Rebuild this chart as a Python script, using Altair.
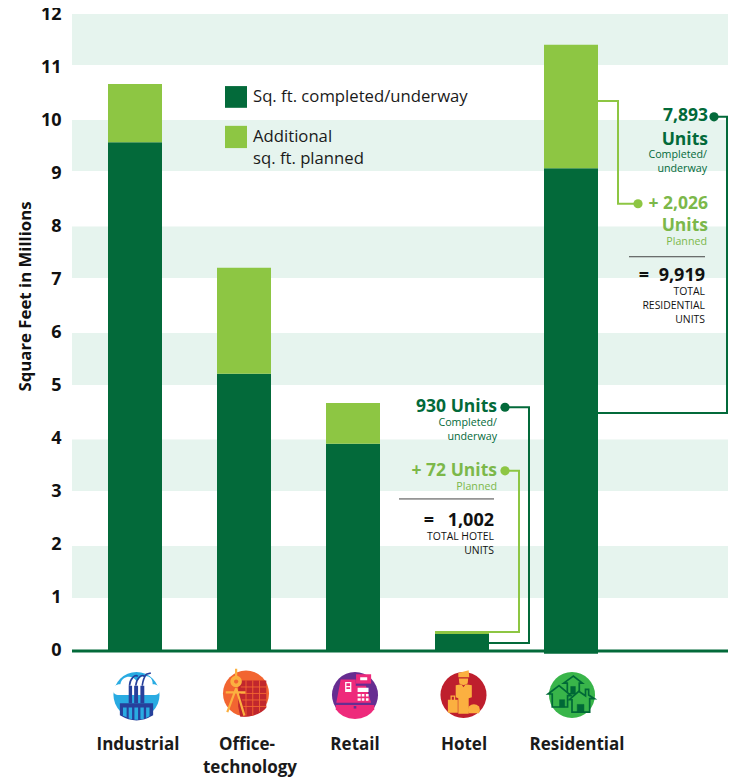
import altair as alt
import pandas as pd

FONT = "Open Sans"
DARK = "#036a3a"
LIGHT = "#8dc643"
LIGHT_TEXT = "#7cb84a"
BAND = "#e6f4ee"
INK = "#111111"

categories = ["Industrial", "Office-technology", "Retail", "Hotel", "Residential"]
base_values = [0, 0, 0, 0, -0.07]
completed = [9.58, 5.21, 3.89, 0.30, 9.09]
total = [10.68, 7.21, 4.66, 0.36, 11.42]

band_low = [0.98, 3.0, 5.0, 7.02, 9.04, 11.04]
band_high = [1.96, 3.97, 5.98, 7.99, 10, 12]

# connectors: id, colour, x (position scale), y (millions)
connector_ids = ["hd"] * 4 + ["hl"] * 4 + ["rd"] * 4 + ["rl"] * 4
connector_col = [DARK] * 4 + [LIGHT] * 4 + [DARK] * 4 + [LIGHT] * 4
connector_x = [489, 529, 529, 505, 489, 519, 519, 505, 598, 727, 727, 714, 598, 618, 618, 638]
connector_y = [0.13, 0.13, 4.58, 4.58, 0.34, 0.34, 3.38, 3.38, 4.47, 4.47, 10.06, 10.06, 10.36, 10.36, 8.42, 8.42]
connector_n = [0, 1, 2, 3] * 4

dot_x = [505, 505, 714, 638]
dot_y = [4.58, 3.38, 10.06, 8.42]
dot_c = [DARK, LIGHT, DARK, LIGHT]

divider_x = [399, 629]
divider_x2 = [494, 705]
divider_y = [2.85, 7.42]

swatch_x = [225, 225]
swatch_x2 = [247, 247]
swatch_y = [10.23, 9.47]
swatch_y2 = [10.64, 9.89]
swatch_c = [DARK, LIGHT]

label_text = [
    "930 Units", "Completed/", "underway", "+ 72 Units", "Planned", "1,002", "=", "TOTAL HOTEL", "UNITS",
    "7,893", "Units", "Completed/", "underway", "+ 2,026", "Units", "Planned", "9,919", "=", "TOTAL", "RESIDENTIAL", "UNITS",
]
label_x = [497, 497, 497, 497, 497, 494, 434, 494, 494, 708, 708, 707, 707, 708, 708, 707, 705, 649, 705, 705, 705]
label_y = [4.58, 4.28, 4.02, 3.38, 3.08, 2.43, 2.43, 2.13, 1.87, 10.08, 9.62, 9.34, 9.08, 8.42, 8.0, 7.70, 7.06, 7.06, 6.75, 6.49, 6.23]
label_size = [17.5, 10.7, 10.7, 17.5, 10.7, 18, 18, 10.4, 10.4, 17.5, 17.5, 10.7, 10.7, 17.5, 17.5, 10.7, 18, 18, 10.4, 10.4, 10.4]
label_weight = ["bold", "normal", "normal", "bold", "normal", "bold", "bold", "normal", "normal",
                "bold", "bold", "normal", "normal", "bold", "bold", "normal", "bold", "bold", "normal", "normal", "normal"]
label_col = [DARK, DARK, DARK, LIGHT_TEXT, LIGHT_TEXT, INK, INK, INK, INK,
             DARK, DARK, DARK, DARK, LIGHT_TEXT, LIGHT_TEXT, LIGHT_TEXT, INK, INK, INK, INK, INK]

legend_text = ["Sq. ft. completed/underway", "Additional", "sq. ft. planned"]
legend_x = [253, 253, 253]
legend_y = [10.43, 9.68, 9.26]

cat_text = ["Industrial", "Office-", "technology", "Retail", "Hotel", "Residential"]
cat_x = [138, 247, 250, 355, 464, 577]
cat_y = [-1.79, -1.79, -2.23, -1.79, -1.79, -1.79]

icon_x = [136.5, 246, 355, 463.5, 572]
icon_y = [-0.85, -0.82, -0.85, -0.85, -0.85]
icon_bg = ["#29abe2", "#f26531", "#662d91", "#be1e2d", "#39b54a"]

# icon pieces: icon index, unit-square SVG path, fill, stroke, stroke width
BLUE = "#27409b"
RED = "#c1272d"
YEL = "#fbb040"
PINK = "#ee2a7b"
WH = "#ffffff"
G = "#39b54a"
GD = "#006837"
T = "transparent"
icon_parts = [
    (0, "M-.65 0C-1 0-1-.42-.62-.42C-.55-.78-.1-.78 0-.52C.2-.85.65-.78.62-.42C1-.42 1 0 .65 0Z", WH, T, 0),
    (0, "M-.64 .32L.64 .32L.64 .78Q.3 .98 0 .98Q-.3 .98-.64 .78Z", BLUE, T, 0),
    (0, "M-.3-.36L-.17-.36L-.17 .32L-.3 .32ZM-.09-.36L.06-.36L.06 .32L-.09 .32ZM.15-.36L.3-.36L.3 .32L.15 .32Z", BLUE, T, 0),
    (0, "M-.27-.36C-.25-.65-.05-.8.05-.72M-.03-.36C0-.65 .2-.82 .3-.72M.22-.36C.25-.6 .3-.7 .38-.8L.55-.85", T, BLUE, 1.6),
    (0, "M-.52 .48L-.38 .48L-.38 .85L-.52 .8ZM-.3 .48L-.17 .48L-.17 .93L-.3 .9ZM-.08 .48L.06 .48L.06 .95L-.08 .95ZM.15 .48L.28 .48L.28 .92L.15 .93ZM.37 .48L.5 .48L.5 .82L.37 .88Z", "#29abe2", T, 0),
    (1, "M-.3-.5L.78-.5L.78 .55Q.5 .9-.22 .9L-.3 .5Z", RED, T, 0),
    (1, "M0-.5L0 .85M.26-.5L.26 .85M.52-.5L.52 .7M-.2-.25L.78-.25M-.2 0L.78 0M-.15 .25L.78 .25M-.1 .5L.78 .5", T, "#f26531", 0.9),
    (1, "M-.38-.95L-.38-.65M-.38-.2L-.72 .72M-.38-.2L-.06 .85M-.78-.04L-.02-.04", T, YEL, 2.2),
    (1, "M-.38-.68A.22 .22 0 1 0-.38-.24A.22 .22 0 1 0-.38-.68ZM-.38-.54A.08 .08 0 1 1-.38-.38A.08 .08 0 1 1-.38-.54Z", YEL, T, 0),
    (2, "M-.55-.6L.03-.6L.03-.36L.42-.36L.62.3L-.72 .3Z", PINK, T, 0),
    (2, "M.04-.8L.62-.8L.62-.44L.04-.44Z", PINK, T, 0),
    (2, "M-.74 .38L.74 .38L.74 .55Q.5 .92 0 .92Q-.5 .92-.74 .55Z", PINK, T, 0),
    (2, "M.2-.68L.47-.68L.47-.57L.2-.57ZM.1-.28L.52-.28L.52-.12L.1-.12ZM.1-.04L.22-.04L.22 .06L.1 .06ZM.26-.04L.36-.04L.36 .06L.26 .06ZM.42-.04L.52-.04L.52 .06L.42 .06ZM.1 .12L.22 .12L.22 .22L.1 .22ZM.26 .12L.36 .12L.36 .22L.26 .22ZM.42 .12L.52 .12L.52 .22L.42 .22Z", WH, T, 0),
    (2, "M-.38-.5L-.14-.5L-.14-.12L-.38-.12ZM-.33-.45L-.33-.35L-.19-.35L-.19-.45ZM-.33-.3L-.33-.23L-.19-.23L-.19-.3Z", WH, T, 0),
    (2, "M-.05 .42L.05 .42L.05 .52L-.05 .52Z", "#662d91", T, 0),
    (3, "M-.2-.85L.2-.95L.22-.68L-.2-.68Z", YEL, T, 0),
    (3, "M-.18-.64L.18-.64L.16-.44L0-.38L-.16-.44Z", YEL, T, 0),
    (3, "M-.3-.38L-.08-.42L0-.3L.08-.42L.32-.38L.32 .08L.2 .12L.2 .72L-.2 .72L-.2 .12L-.3 .08Z", YEL, T, 0),
    (3, "M-.6 .18L-.22 .18L-.22 .68L-.6 .68ZM-.5 .02L-.32 .02L-.32 .18L-.37 .18L-.37 .07L-.45 .07L-.45 .18L-.5 .18Z", YEL, T, 0),
    (3, "M.2 .44Q.4 .26 .6 .44Q.66 .55 .6 .7L.2 .7Q.14 .55 .2 .44Z", YEL, T, 0),
    (4, "M.05-.73L-.32-.46L-.18-.46L-.18-.05L.28-.05L.28-.46L.4-.46Z", G, GD, 1.7),
    (4, "M-.05-.33L.13-.33L.13-.08L-.05-.08Z", GD, GD, 0.5),
    (4, "M-.5-.36L-.92-.04L-.76-.04L-.76 .46L-.17 .46L-.17 .02L-.04 .02Z", G, GD, 1.7),
    (4, "M-.48 .18L-.28 .18L-.28 .46L-.48 .46Z", GD, GD, 0.5),
    (4, "M.52-.22L.64-.22L.64 .0L.86 .14L.68 .14L.68 .66L0 .66L0 .18L-.1 .18L.26-.14L.52 .03Z", G, GD, 1.7),
    (4, "M.2 .36L.46 .36L.46 .66L.2 .66Z", GD, GD, 0.5),
]

# ---------- scales ----------
y_scale = alt.Scale(domain=[0, 12], nice=False, zero=False)
pos_scale = alt.Scale(domain=[72, 728], nice=False, zero=False)
X = alt.X("x:Q", scale=pos_scale, axis=None)
X2 = alt.X2("x2:Q")
Y_PLAIN = alt.Y("y:Q", scale=y_scale, axis=None)

bands = pd.DataFrame({"lo": band_low, "hi": band_high, "x": 72, "x2": 728})
band_layer = alt.Chart(bands).mark_rect(color=BAND).encode(
    x=X, x2=X2,
    y=alt.Y(
        "lo:Q",
        scale=y_scale,
        axis=alt.Axis(
            values=list(range(13)), format="d", domain=False, ticks=False, grid=False,
            labelFont=FONT, labelFontWeight="bold", labelFontSize=18, labelColor=INK,
            labelPadding=11, labelOverlap=False,
            title="Square Feet in Millions", titleFont=FONT, titleFontWeight="bold",
            titleFontSize=16.8, titleColor=INK, titleX=-38, titleY=282, titleAngle=270,
        ),
    ),
    y2="hi:Q",
)

bars = pd.DataFrame({"cat": categories, "base": base_values, "completed": completed, "total": total})
band_x = alt.X(
    "cat:N",
    sort=categories,
    axis=None,
    scale=alt.Scale(domain=categories, range=[36, 526], paddingInner=0.5046, paddingOuter=0),
)
bar_low = alt.Chart(bars).mark_bar(color=DARK).encode(
    x=band_x, y=alt.Y("base:Q", scale=y_scale, axis=None), y2="completed:Q"
)
bar_high = alt.Chart(bars).mark_bar(color=LIGHT).encode(
    x=band_x, y=alt.Y("completed:Q", scale=y_scale, axis=None), y2="total:Q"
)

base_rule = alt.Chart(pd.DataFrame({"x": [72], "x2": [728], "y": [-0.02]})).mark_rule(
    color=DARK, strokeWidth=3
).encode(x=X, x2=X2, y=Y_PLAIN)

connectors = pd.DataFrame({"id": connector_ids, "c": connector_col, "x": connector_x, "y": connector_y, "n": connector_n})
connector_layer = alt.Chart(connectors).mark_line(strokeWidth=2, strokeJoin="miter").encode(
    x=X, y=Y_PLAIN, detail="id:N", order="n:Q", color=alt.Color("c:N", scale=None)
)
dots = alt.Chart(pd.DataFrame({"x": dot_x, "y": dot_y, "c": dot_c})).mark_point(
    filled=True, size=85, opacity=1, shape="circle"
).encode(x=X, y=Y_PLAIN, color=alt.Color("c:N", scale=None))

dividers = alt.Chart(pd.DataFrame({"x": divider_x, "x2": divider_x2, "y": divider_y})).mark_rule(
    color="#444444", strokeWidth=1
).encode(x=X, x2=X2, y=Y_PLAIN)

swatches = alt.Chart(pd.DataFrame({"x": swatch_x, "x2": swatch_x2, "y": swatch_y, "y2": swatch_y2, "c": swatch_c})).mark_rect().encode(
    x=X, x2=X2, y=Y_PLAIN, y2="y2:Q", color=alt.Color("c:N", scale=None)
)

labels = pd.DataFrame({"t": label_text, "x": label_x, "y": label_y, "s": label_size, "w": label_weight, "c": label_col})
def text_layer(weight):
    return alt.Chart(labels[labels.w == weight]).mark_text(
        font=FONT, fontWeight=weight, align="right", baseline="middle"
    ).encode(
        x=X, y=Y_PLAIN, text="t:N",
        size=alt.Size("s:Q", scale=None),
        color=alt.Color("c:N", scale=None),
    )

legend_layer = alt.Chart(pd.DataFrame({"t": legend_text, "x": legend_x, "y": legend_y})).mark_text(
    font=FONT, fontSize=16.7, align="left", baseline="middle", color="#1a1a1a"
).encode(x=X, y=Y_PLAIN, text="t:N")

cat_layer = alt.Chart(pd.DataFrame({"t": cat_text, "x": cat_x, "y": cat_y})).mark_text(
    font=FONT, fontWeight="bold", fontSize=17, align="center", baseline="middle", color="#1a1a1a"
).encode(x=X, y=Y_PLAIN, text="t:N")

icon_circles = alt.Chart(pd.DataFrame({"x": icon_x, "y": icon_y, "c": icon_bg})).mark_point(
    filled=True, size=2124, opacity=1, shape="circle"
).encode(x=X, y=Y_PLAIN, color=alt.Color("c:N", scale=None))

parts = pd.DataFrame(
    [
        {"x": icon_x[i], "y": icon_y[i], "p": p, "f": f, "s": s, "w": w}
        for i, p, f, s, w in icon_parts
    ]
)
icon_art = alt.Chart(parts).mark_point(filled=True, size=2704, opacity=1).encode(
    x=X, y=Y_PLAIN,
    shape=alt.Shape("p:N", scale=None),
    fill=alt.Fill("f:N", scale=None),
    stroke=alt.Stroke("s:N", scale=None),
    strokeWidth=alt.StrokeWidth("w:Q", scale=None),
)

chart = (
    alt.layer(
        band_layer, bar_low, bar_high, base_rule,
        connector_layer, dots, dividers, swatches,
        text_layer("bold"), text_layer("normal"),
        legend_layer, cat_layer, icon_circles, icon_art,
    )
    .resolve_scale(x="independent")
    .resolve_axis(y="independent")
    .properties(
        width=656,
        height=636,
        padding={"left": 64, "top": 6, "right": 0, "bottom": 127},
        autosize=alt.AutoSizeParams(type="none"),
    )
    .configure_view(stroke=None)
)

chart.save("out.html", embed_options={"renderer": "svg", "actions": False})
